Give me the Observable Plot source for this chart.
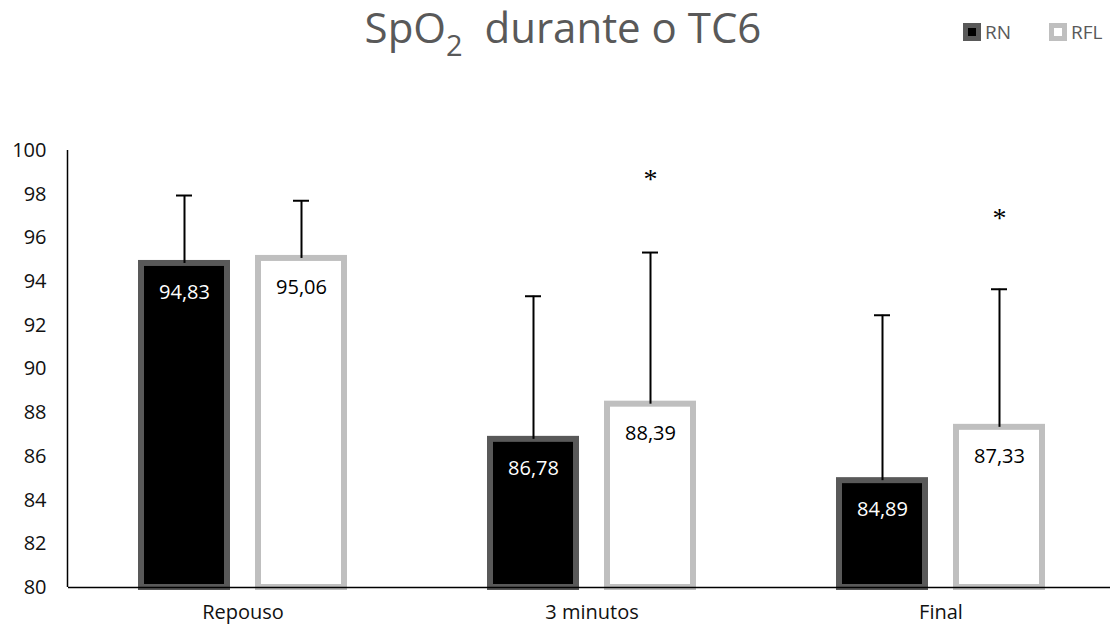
<!DOCTYPE html>
<html>
<head>
<meta charset="utf-8">
<script src="https://cdn.jsdelivr.net/npm/d3@7"></script>
<script src="https://cdn.jsdelivr.net/npm/@observablehq/plot@0.6"></script>
<style>
  html, body { margin: 0; padding: 0; background: white; }
  #wrap { position: relative; width: 1110px; height: 633px; font-family: "Open Sans", sans-serif; }
  #header { position: relative; width: 1110px; height: 100px; }
  #title { position: absolute; left: 0; top: 6px; width: 1126px; text-align: center; font-size: 42px; line-height: 42px; color: #595959; white-space: pre; }
  #title sub { font-size: 29px; line-height: 0; vertical-align: -13px; }
  .leg { position: absolute; top: 21px; font-size: 19px; line-height: 22px; color: #595959; display: flex; align-items: center; }
  .sw { width: 8px; height: 8px; border-style: solid; border-width: 5px; margin-right: 4px; }
</style>
</head>
<body>
<div id="wrap">
  <div id="header">
    <div id="title">SpO<sub>2</sub>  durante o TC6</div>
    <div class="leg" style="left:963px"><div class="sw" style="background:#000;border-color:#595959"></div>RN</div>
    <div class="leg" style="left:1049px"><div class="sw" style="background:#fff;border-color:#bfbfbf"></div>RFL</div>
  </div>
  <div id="chart"></div>
</div>
<script>
const categories = ["Repouso", "3 minutos", "Final"];
const series = ["RN", "RFL"];
const rnMean = [94.83, 86.78, 84.89];
const rflMean = [95.06, 88.39, 87.33];
const rnSD = [3.11, 6.55, 7.57];
const rflSD = [2.64, 6.94, 6.32];
const sigCategories = ["3 minutos", "Final"];
const sigY = [98.8, 97.0];
const yTicks = [80, 82, 84, 86, 88, 90, 92, 94, 96, 98, 100];

const rows = [];
categories.forEach((c, i) => {
  rows.push({cat: c, series: "RN", value: rnMean[i], sd: rnSD[i]});
  rows.push({cat: c, series: "RFL", value: rflMean[i], sd: rflSD[i]});
});
const sig = sigCategories.map((c, i) => ({cat: c, series: "RFL", y: sigY[i]}));
const rn = rows.filter(d => d.series === "RN");
const rfl = rows.filter(d => d.series === "RFL");
const fmt = v => v.toFixed(2).replace(".", ",");

const chart = Plot.plot({
  width: 1110,
  height: 533,
  marginTop: 50,
  marginBottom: 46,
  marginLeft: 67,
  marginRight: 0,
  style: {fontFamily: "Open Sans, sans-serif", fontSize: "20px", color: "#111", background: "white"},
  fx: {domain: categories, range: [67, 1116], padding: 0, label: null, tickSize: 0, tickPadding: 17},
  x: {domain: series, paddingInner: 0.263, paddingOuter: 0.6125, axis: null},
  y: {domain: [80, 100], ticks: yTicks, tickSize: 0, tickPadding: 22, label: null, tickFormat: d => String(d)},
  marks: [
    Plot.barY(rn, {fx: "cat", x: "series", y1: 80, y2: "value", fill: "#000", stroke: "#595959", strokeWidth: 6}),
    Plot.barY(rfl, {fx: "cat", x: "series", y1: 80, y2: "value", fill: "#fff", stroke: "#bfbfbf", strokeWidth: 6}),
    Plot.ruleX(rows, {fx: "cat", x: "series", y1: "value", y2: d => d.value + d.sd, stroke: "#000", strokeWidth: 2}),
    Plot.tickY(rows, {fx: "cat", x: "series", y: d => d.value + d.sd, stroke: "#000", strokeWidth: 2, insetLeft: 35, insetRight: 35}),
    Plot.text(rn, {fx: "cat", x: "series", y: "value", text: d => fmt(d.value), dy: 29, fill: "#fff", fontSize: 20}),
    Plot.text(rfl, {fx: "cat", x: "series", y: "value", text: d => fmt(d.value), dy: 29, fill: "#000", fontSize: 20}),
    Plot.text(sig, {fx: "cat", x: "series", y: "y", text: () => "*", fontFamily: "Liberation Serif, serif", fontSize: 28, dy: 2, fill: "#000"}),
    Plot.ruleY([80], {stroke: "#000", strokeWidth: 1.5})
  ]
});
document.getElementById("chart").appendChild(chart);

const yScale = chart.scale("y");
const ns = "http://www.w3.org/2000/svg";
const axisLine = document.createElementNS(ns, "line");
axisLine.setAttribute("x1", 67.5);
axisLine.setAttribute("x2", 67.5);
axisLine.setAttribute("y1", yScale.apply(100));
axisLine.setAttribute("y2", yScale.apply(80));
axisLine.setAttribute("stroke", "#000");
axisLine.setAttribute("stroke-width", 1.5);
chart.appendChild(axisLine);
</script>
</body>
</html>
